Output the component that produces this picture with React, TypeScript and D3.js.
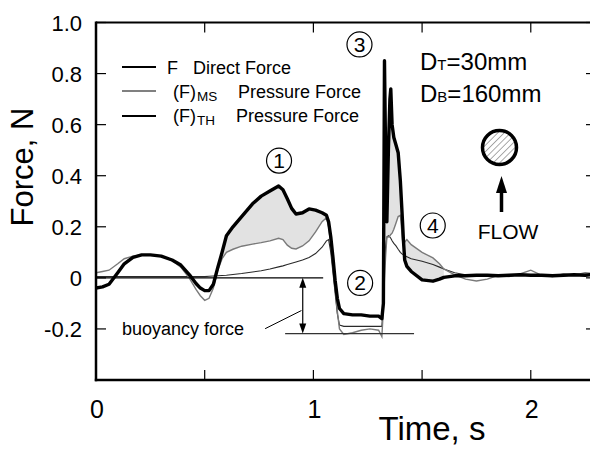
import React from 'react';
import * as d3 from 'd3';

// ---- data ----
const time = [
  0, 0.03, 0.06, 0.1, 0.13, 0.17, 0.21, 0.25, 0.3, 0.35, 0.39, 0.43, 0.46, 0.48, 0.5, 0.52, 0.54, 0.56, 0.58,
  0.6, 0.63, 0.67, 0.72, 0.76, 0.8, 0.84, 0.86, 0.88, 0.9, 0.92, 0.95, 0.98, 1.01, 1.04, 1.06, 1.07, 1.08,
  1.09, 1.1, 1.11, 1.12, 1.14, 1.18, 1.22, 1.26, 1.3, 1.315, 1.322, 1.327, 1.332, 1.338, 1.345, 1.352, 1.356,
  1.362, 1.37, 1.38, 1.39, 1.4, 1.41, 1.414, 1.42, 1.43, 1.45, 1.5, 1.55, 1.58, 1.6, 1.65, 1.7, 1.75, 1.8,
  1.85, 1.9, 1.95, 2.0, 2.05, 2.1, 2.15, 2.2, 2.25, 2.3,
];
const directForce = [
  -0.04, -0.035, -0.025, 0.02, 0.055, 0.08, 0.09, 0.09, 0.085, 0.07, 0.05, 0.012, -0.022, -0.04, -0.05, -0.05, -0.025, 0.04, 0.1,
  0.165, 0.2, 0.24, 0.29, 0.32, 0.34, 0.36, 0.345, 0.31, 0.272, 0.25, 0.255, 0.27, 0.265, 0.255, 0.245, 0.22, 0.16,
  0.08, -0.01, -0.08, -0.12, -0.14, -0.145, -0.145, -0.15, -0.15, -0.16, -0.1, 0.85, 0.5, 0.22, 0.5, 0.7, 0.74,
  0.6, 0.55, 0.52, 0.49, 0.38, 0.22, 0.15, 0.07, 0.045, 0.025, -0.008, -0.013, -0.005, 0.002, 0.008, 0.008, 0.01, 0.01,
  0.008, 0.01, 0.012, 0.01, 0.01, 0.008, 0.01, 0.012, 0.01, 0.015,
];
const pressureMS = [
  0.02, 0.025, 0.03, 0.055, 0.075, 0.085, 0.09, 0.09, 0.085, 0.068, 0.042, -0.002, -0.045, -0.07, -0.088, -0.08, -0.04, 0.03, 0.075,
  0.1, 0.112, 0.124, 0.132, 0.138, 0.145, 0.155, 0.15, 0.128, 0.116, 0.113, 0.125, 0.145, 0.18, 0.22, 0.235, 0.2, 0.13,
  0.05, -0.04, -0.13, -0.2, -0.222, -0.215, -0.205, -0.2, -0.205, -0.23, -0.12, 0.0, 0.08, 0.16, 0.16, 0.165, 0.17,
  0.175, 0.19, 0.215, 0.24, 0.245, 0.15, 0.124, 0.14, 0.15, 0.13, 0.1, 0.078, 0.055, 0.035, 0.012, -0.005, -0.012, -0.005,
  0.01, 0.005, 0.015, 0.03, 0.01, 0.005, 0.015, 0.01, 0.02, 0.015,
];
const pressureTH = [
  0.005, 0.005, 0.005, 0.005, 0.005, 0.005, 0.005, 0.005, 0.005, 0.005, 0.005, 0.005, 0.005, 0.005, 0.005, 0.006, 0.007, 0.008, 0.009,
  0.01, 0.013, 0.017, 0.023, 0.028, 0.035, 0.043, 0.047, 0.052, 0.057, 0.062, 0.07, 0.08, 0.095, 0.12, 0.145, 0.15, 0.1,
  0.02, -0.06, -0.14, -0.185, -0.19, -0.19, -0.19, -0.19, -0.19, -0.19, -0.1, 0.05, 0.12, 0.16, 0.165, 0.16, 0.155,
  0.145, 0.135, 0.125, 0.112, 0.1, 0.092, 0.09, 0.087, 0.083, 0.075, 0.065, 0.052, 0.042, 0.035, 0.02, 0.012, 0.01, 0.01,
  0.01, 0.01, 0.01, 0.01, 0.01, 0.01, 0.01, 0.01, 0.01, 0.01,
];
const fillSpans = [[0.58, 1.075], [1.322, 1.6]];
const yTicks = [-0.2, 0, 0.2, 0.4, 0.6, 0.8, 1.0];
const yTickLabels = ['-0.2', '0', '0.2', '0.4', '0.6', '0.8', '1.0'];
const xMajorTicks = [0, 1, 2];
const xTickLabels = ['0', '1', '2'];
const xMinorTicks = [0.5, 1, 1.5, 2];
const buoyancyLevel = -0.218;

const FONT = "'Liberation Sans', Arial, Helvetica, sans-serif";

export default function App() {
  const W = 590, H = 449;
  const x = d3.scaleLinear().domain([0, 2.3]).range([96, 596]);
  const y = d3.scaleLinear().domain([-0.4, 1.0]).range([380, 22.5]);
  const rows = time.map((t, i) => ({ t, f: directForce[i], ms: pressureMS[i], th: pressureTH[i] }));
  const inSpan = (t: number) => fillSpans.some(([a, b]) => t >= a && t <= b);

  const lineF = d3.line<any>().x(d => x(d.t)).y(d => y(d.f));
  const lineMS = d3.line<any>().x(d => x(d.t)).y(d => y(d.ms));
  const lineTH = d3.line<any>().x(d => x(d.t)).y(d => y(d.th));
  const area = d3.area<any>().defined(d => inSpan(d.t)).x(d => x(d.t)).y0(d => y(d.ms)).y1(d => y(d.f));

  const left = x(0), right = x(2.3), top = y(1.0), bottom = y(-0.4);

  const circled = [
    { n: '1', t: 0.842, v: 0.459 },
    { n: '3', t: 1.212, v: 0.914 },
    { n: '2', t: 1.215, v: -0.02 },
    { n: '4', t: 1.549, v: 0.205 },
  ];

  const arrowX = x(0.951);
  const legendRows = [
    { yl: 67, color: '#000', main: 'F', sub: '', desc: 'Direct Force', descX: 193, subX: 0, baseline: 74 },
    { yl: 91, color: '#808080', main: '(F)', sub: 'MS', desc: 'Pressure Force', descX: 238, subX: 197, baseline: 97.5 },
    { yl: 116, color: '#000', main: '(F)', sub: 'TH', desc: 'Pressure Force', descX: 236, subX: 197, baseline: 122 },
  ];

  return (
    <div style={{ position: 'absolute', left: 0, top: 0 }}>
      <svg width={W} height={H} style={{ display: 'block', background: '#fff' }} fontFamily={FONT}>
        <defs>
          <clipPath id="plotClip">
            <rect x={left} y={top} width={right - left} height={bottom - top} />
          </clipPath>
          <pattern id="hatch" patternUnits="userSpaceOnUse" width={4.5} height={4.5} patternTransform="rotate(45)">
            <line x1={0} y1={0} x2={0} y2={4.5} stroke="#555" strokeWidth={1} />
          </pattern>
        </defs>
        <rect x={0} y={0} width={W} height={H} fill="#fff" />

        {/* data */}
        <g clipPath="url(#plotClip)">
          <path d={area(rows) || ''} fill="#e2e2e2" stroke="none" />
          <path d={lineTH(rows) || ''} fill="none" stroke="#2a2a2a" strokeWidth={1.1} />
          <path d={lineMS(rows) || ''} fill="none" stroke="#7a7a7a" strokeWidth={1.4} />
          <path d={lineF(rows) || ''} fill="none" stroke="#000" strokeWidth={3.4} strokeLinejoin="round" />
        </g>

        {/* reference lines */}
        <line x1={left} x2={x(1.045)} y1={y(0)} y2={y(0)} stroke="#000" strokeWidth={1.2} />
        <line x1={x(0.87)} x2={x(1.463)} y1={y(buoyancyLevel)} y2={y(buoyancyLevel)} stroke="#333" strokeWidth={1.2} />
        <line x1={arrowX} x2={arrowX} y1={y(0) + 8} y2={y(buoyancyLevel) - 8} stroke="#000" strokeWidth={1.2} />
        <path d={`M${arrowX},${y(0)} l-3.5,10 l7,0 z`} fill="#000" />
        <path d={`M${arrowX},${y(buoyancyLevel)} l-3.5,-10 l7,0 z`} fill="#000" />
        <line x1={x(0.778)} y1={y(-0.199)} x2={x(0.945)} y2={y(-0.128)} stroke="#000" strokeWidth={1} />
        <text x={122} y={335} fontSize={18} fill="#000">buoyancy force</text>

        {/* frame */}
        <line x1={left} x2={left} y1={top - 1} y2={bottom + 1.2} stroke="#000" strokeWidth={2.5} />
        <line x1={left - 1.2} x2={W} y1={bottom} y2={bottom} stroke="#000" strokeWidth={2.5} />
        <line x1={left} x2={W} y1={top} y2={top} stroke="#000" strokeWidth={2} />
        <line x1={right} x2={right} y1={top} y2={bottom} stroke="#000" strokeWidth={2.5} />

        {/* y ticks */}
        {yTicks.map((v, i) => (
          <g key={'y' + i}>
            <line x1={left} x2={left + 10} y1={y(v)} y2={y(v)} stroke="#000" strokeWidth={1.2} />
            <line x1={right - 10} x2={right} y1={y(v)} y2={y(v)} stroke="#000" strokeWidth={1.2} />
            <text x={82} y={y(v) + 8} fontSize={22} textAnchor="end" fill="#000">{yTickLabels[i]}</text>
          </g>
        ))}
        {/* x ticks */}
        {xMinorTicks.map((t, i) => (
          <g key={'x' + i}>
            <line x1={x(t)} x2={x(t)} y1={bottom} y2={bottom - 10} stroke="#000" strokeWidth={1.2} />
            <line x1={x(t)} x2={x(t)} y1={top} y2={top + 10} stroke="#000" strokeWidth={1.2} />
          </g>
        ))}
        {xMajorTicks.map((t, i) => (
          <text key={'xl' + i} x={x(t) + 1} y={418} fontSize={25} textAnchor="middle" fill="#000">{xTickLabels[i]}</text>
        ))}

        {/* axis titles */}
        <text x={432} y={440} fontSize={33} textAnchor="middle" fill="#000">Time, s</text>
        <text transform="translate(33,167) rotate(-90)" fontSize={31} textAnchor="middle" fill="#000">Force, N</text>

        {/* legend */}
        {legendRows.map((r, i) => (
          <g key={'lg' + i}>
            <line x1={122} x2={156} y1={r.yl} y2={r.yl} stroke={r.color} strokeWidth={1.8} />
            <text x={i === 0 ? 167 : 173} y={r.baseline} fontSize={18} fill="#000">{r.main}</text>
            {r.sub && <text x={r.subX} y={r.baseline + 3} fontSize={13.5} fill="#000">{r.sub}</text>}
            <text x={r.descX} y={r.baseline} fontSize={18} fill="#000">{r.desc}</text>
          </g>
        ))}

        {/* circled labels */}
        {circled.map((c, i) => (
          <g key={'c' + i}>
            <circle cx={x(c.t)} cy={y(c.v)} r={12.5} fill="#fff" stroke="#000" strokeWidth={1.2} />
            <text x={x(c.t)} y={y(c.v) + 7.5} fontSize={21} textAnchor="middle" fill="#000">{c.n}</text>
          </g>
        ))}

        {/* dimensions */}
        <text x={420} y={70} fontSize={24} fill="#000">D<tspan fontSize={15}>T</tspan>=30mm</text>
        <text x={420} y={101.5} fontSize={24} fill="#000">D<tspan fontSize={15}>B</tspan>=160mm</text>

        {/* cylinder and flow arrow */}
        <circle cx={499.5} cy={147.5} r={17} fill="url(#hatch)" stroke="#000" strokeWidth={3.5} />
        <line x1={501.5} x2={501.5} y1={212} y2={190} stroke="#000" strokeWidth={3.5} />
        <path d="M501.5,176 L496,193 L507,193 Z" fill="#000" />
        <text x={508} y={239} fontSize={21} textAnchor="middle" fill="#000">FLOW</text>
      </svg>
    </div>
  );
}
